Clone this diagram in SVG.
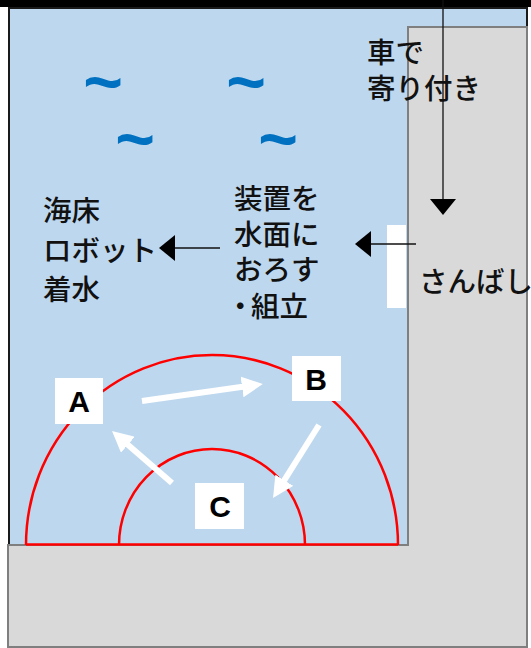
<svg xmlns="http://www.w3.org/2000/svg" width="531" height="648" viewBox="0 0 531 648">
<style>
.jp{font-family:"Noto Sans CJK JP","Noto Sans",sans-serif;font-size:28.5px;font-weight:500;fill:#111}
.lbl{font-family:"Liberation Sans",Arial,sans-serif;font-size:30px;font-weight:bold;fill:#000;text-anchor:middle}
.wave{font-family:"Liberation Sans",Arial,sans-serif;font-size:68px;font-weight:bold;fill:#0070c0;text-anchor:middle}
.blk{stroke:#111;stroke-width:1.3;fill:none}
.wht{stroke:#fff;stroke-width:6;fill:none}
.red{stroke:#ff0000;stroke-width:2.5;fill:none}
</style>
<defs>
<marker id="bh" markerUnits="userSpaceOnUse" markerWidth="16" markerHeight="26" viewBox="0 0 16 26" refX="0" refY="13" orient="auto">
<path d="M0,0 L16,13 L0,26 z" fill="#000"/>
</marker>
<marker id="wh" markerWidth="3.5" markerHeight="3.5" viewBox="0 0 10 10" refX="2" refY="5" orient="auto">
<path d="M0,0 L10,5 L0,10 z" fill="#fff"/>
</marker>
</defs>
<rect x="0" y="0" width="531" height="648" fill="#fff"/>
<rect x="0" y="0" width="531" height="7" fill="#000"/>
<g id="sea">
<rect x="9" y="8" width="518" height="537" fill="#bdd7ee" stroke="#1a1a1a" stroke-width="2"/>
</g>
<g id="pier">
<path d="M408,27 L527,27 L527,647 L8,647 L8,545 L408,545 Z" fill="#d9d9d9" stroke="#7f7f7f" stroke-width="2"/>
<rect x="387" y="225" width="19" height="83" fill="#fff"/>
</g>
<g id="waves">
<text class="wave" x="103" y="105">~</text>
<text class="wave" x="246" y="105">~</text>
<text class="wave" x="135" y="162">~</text>
<text class="wave" x="278" y="162">~</text>
</g>
<g id="areas">
<path class="red" d="M26,545 A186,190 0 0 1 398,545"/>
<path class="red" d="M119,545 A93,96 0 0 1 305,545"/>
<line class="red" x1="26" y1="544.5" x2="398" y2="544.5"/>
</g>
<g id="car-text">
<text class="jp" x="367" y="63">車で</text>
<text class="jp" x="367" y="99">寄り付き</text>
</g>
<g id="robot-text">
<text class="jp" x="43" y="221">海床</text>
<text class="jp" x="43" y="261">ロボット</text>
<text class="jp" x="43" y="300">着水</text>
</g>
<g id="device-text">
<text class="jp" x="234" y="209">装置を</text>
<text class="jp" x="234" y="245">水面に</text>
<text class="jp" x="234" y="280">おろす</text>
<text class="jp" y="317"><tspan x="226">・</tspan><tspan x="251">組立</tspan></text>
</g>
<g id="pier-text">
<text class="jp" x="419" y="292">さんばし</text>
</g>
<g id="connectors">
<line class="blk" x1="443" y1="0" x2="443" y2="199" marker-end="url(#bh)"/>
<line class="blk" x1="416" y1="244" x2="371" y2="244" marker-end="url(#bh)"/>
<line class="blk" x1="220" y1="248" x2="175" y2="248" marker-end="url(#bh)"/>
<line class="wht" x1="142" y1="401" x2="246.2" y2="386.3" marker-end="url(#wh)"/>
<line class="wht" x1="319" y1="425" x2="282" y2="483.8" marker-end="url(#wh)"/>
<line class="wht" x1="172" y1="483" x2="124.7" y2="442" marker-end="url(#wh)"/>
</g>
<g id="label-A">
<rect x="55" y="378" width="48" height="46" fill="#fff"/>
<text class="lbl" x="79" y="412">A</text>
</g>
<g id="label-B">
<rect x="292" y="356" width="49" height="45" fill="#fff"/>
<text class="lbl" x="316" y="390">B</text>
</g>
<g id="label-C">
<rect x="195" y="483" width="49" height="46" fill="#fff"/>
<text class="lbl" x="220" y="517">C</text>
</g>
</svg>
